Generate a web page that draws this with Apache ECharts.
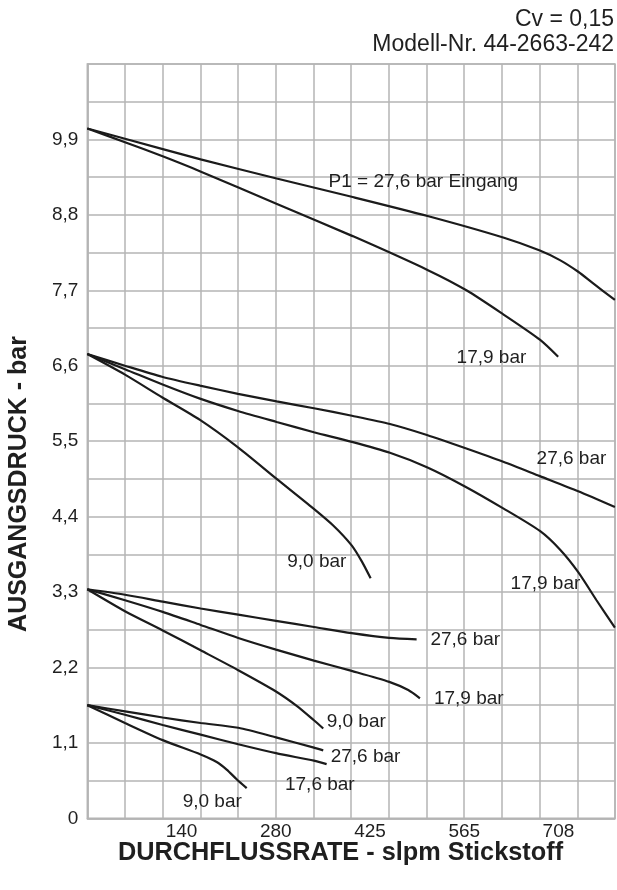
<!DOCTYPE html>
<html>
<head>
<meta charset="utf-8">
<script src="https://cdn.jsdelivr.net/npm/echarts@6/dist/echarts.min.js"></script>
<style>
html,body{margin:0;padding:0;background:#fff;}
#c{width:617px;height:890px;}
</style>
</head>
<body>
<div id="c"></div>
<script>
// ---- tick labels ----
const xLabels = ['140', '280', '425', '565', '708'];
const yLabels = ['0', '1,1', '2,2', '3,3', '4,4', '5,5', '6,6', '7,7', '8,8', '9,9'];

// ---- curves (flow in slpm, outlet pressure in bar) ----
// set point ~10 bar
const flowA276 = [0, 56.6, 170.3, 284.5, 398.7, 512.6, 624.9, 680.0, 710.1, 737.6, 760.1, 792.7];
const presA276 = [10.06, 9.91, 9.61, 9.33, 9.06, 8.78, 8.47, 8.28, 8.14, 7.97, 7.80, 7.56];
const flowA179 = [0, 56.6, 114.2, 170.8, 285.0, 398.7, 512.6, 569.6, 624.9, 680.0, 707.5];
const presA179 = [10.06, 9.86, 9.65, 9.43, 8.96, 8.49, 7.99, 7.70, 7.35, 6.98, 6.73];
// set point ~6.8 bar
const flowB276 = [0, 56.6, 112.2, 169.3, 226.4, 284.5, 340.5, 397.6, 454.7, 510.3, 567.4, 624.9, 680.0, 737.6, 792.7];
const presB276 = [6.77, 6.60, 6.44, 6.31, 6.19, 6.08, 5.98, 5.87, 5.75, 5.59, 5.40, 5.20, 4.99, 4.77, 4.54];
const flowB179 = [0, 56.6, 112.2, 169.3, 226.4, 284.5, 340.5, 397.6, 454.7, 510.3, 567.4, 624.9, 680.0, 710.1, 737.6, 765.1, 792.7];
const presB179 = [6.77, 6.55, 6.33, 6.12, 5.94, 5.78, 5.63, 5.49, 5.33, 5.12, 4.84, 4.52, 4.19, 3.92, 3.59, 3.18, 2.78];
const flowB90 = [0, 56.6, 112.2, 169.3, 226.4, 284.5, 339.5, 369.5, 397.2, 412.2, 425.7];
const presB90 = [6.77, 6.47, 6.14, 5.81, 5.41, 4.95, 4.52, 4.27, 3.98, 3.75, 3.50];
// set point ~3.3 bar
const flowC276 = [0, 56.6, 113.3, 170.3, 226.8, 283.5, 340.5, 397.2, 453.7, 494.8];
const presC276 = [3.34, 3.26, 3.16, 3.06, 2.97, 2.88, 2.79, 2.70, 2.63, 2.61];
const flowC179 = [0, 56.6, 113.3, 170.3, 226.8, 283.5, 340.5, 397.2, 453.7, 482.2, 499.8];
const presC179 = [3.34, 3.18, 3.01, 2.82, 2.63, 2.46, 2.30, 2.15, 1.99, 1.87, 1.75];
const flowC90 = [0, 56.6, 113.3, 170.3, 226.8, 283.5, 314.6, 340.5, 354.5];
const presC90 = [3.34, 3.02, 2.74, 2.45, 2.16, 1.85, 1.64, 1.43, 1.31];
// set point ~1.65 bar
const flowD276 = [0, 56.6, 113.3, 170.3, 226.8, 283.5, 340.5, 354.5];
const presD276 = [1.65, 1.56, 1.47, 1.39, 1.32, 1.18, 1.03, 0.99];
const flowD176 = [0, 56.6, 113.3, 170.3, 226.8, 283.5, 340.5, 359.6];
const presD176 = [1.65, 1.51, 1.36, 1.22, 1.08, 0.95, 0.84, 0.79];
const flowD90 = [0, 56.6, 113.3, 170.3, 194.4, 209.4, 224.4, 239.5];
const presD90 = [1.65, 1.39, 1.14, 0.93, 0.82, 0.71, 0.57, 0.44];

// ---- curve label texts ----
const labelTexts = ['P1 = 27,6 bar Eingang', '17,9 bar', '27,6 bar', '17,9 bar', '9,0 bar',
  '27,6 bar', '17,9 bar', '9,0 bar', '27,6 bar', '17,6 bar', '9,0 bar'];

const curves = [
  [flowA276, presA276], [flowA179, presA179],
  [flowB276, presB276], [flowB179, presB179], [flowB90, presB90],
  [flowC276, presC276], [flowC179, presC179], [flowC90, presC90],
  [flowD276, presD276], [flowD176, presD176], [flowD90, presD90]
];

const SLPM_PER_COL = 56.634;          // 2 SCFM per grid column
const XMAX = SLPM_PER_COL * 14;
const XLAB = SLPM_PER_COL * 2.5;      // 5 SCFM per tick label
const GRIDC = '#b4b4b4';
const TEXT = '#1f1f1f';
const FONT = 'Liberation Sans, Arial, sans-serif';

// label anchors in data space (left edge, vertical middle)
const labelAnchors = [
  [362.5, 9.28], [554.9, 6.71], [675.1, 5.24], [636.0, 3.42], [300.4, 3.74],
  [515.6, 2.60], [520.8, 1.75], [359.6, 1.41], [365.6, 0.90], [297.0, 0.49], [143.3, 0.24]
];

const series = curves.map((c, i) => ({
  type: 'line',
  xAxisIndex: 0,
  data: c[0].map((x, j) => [x, c[1][j]]),
  smooth: 0.25,
  showSymbol: false,
  silent: true,
  lineStyle: { color: '#1b1b1b', width: 2.2 },
  z: 3
}));

series.push({
  type: 'scatter',
  xAxisIndex: 0,
  symbolSize: 0,
  silent: true,
  itemStyle: { opacity: 1 },
  data: labelTexts.map((t, i) => ({ value: labelAnchors[i], name: t })),
  label: {
    show: true, position: 'right', distance: 0, opacity: 1,
    formatter: p => p.name,
    fontSize: 19, color: TEXT, fontFamily: FONT, textBorderWidth: 0
  },
  z: 5
});

const chart = echarts.init(document.getElementById('c'), null, { renderer: 'canvas' });
chart.setOption({
  animation: false,
  backgroundColor: '#fff',
  title: [
    { text: 'Cv = 0,15', right: 3, top: 8, padding: 0, textStyle: { fontSize: 23, fontWeight: 'normal', color: TEXT, fontFamily: FONT } },
    { text: 'Modell-Nr. 44-2663-242', right: 3, top: 33, padding: 0, textStyle: { fontSize: 23, fontWeight: 'normal', color: TEXT, fontFamily: FONT } }
  ],
  grid: { left: 87.3, right: 2, top: 64, bottom: 71.7, show: true, borderColor: GRIDC, borderWidth: 1.5, backgroundColor: 'transparent' },
  xAxis: [
    {
      type: 'value', min: 0, max: XMAX, interval: SLPM_PER_COL,
      axisLine: { show: true, lineStyle: { color: GRIDC, width: 1.5 } },
      axisTick: { show: false }, axisLabel: { show: false },
      splitLine: { show: true, lineStyle: { color: GRIDC, width: 1.5 } }
    },
    {
      type: 'value', min: 0, max: XMAX, interval: XLAB, position: 'bottom',
      axisLine: { show: false }, axisTick: { show: false }, splitLine: { show: false },
      axisLabel: {
        margin: 4, fontSize: 19, color: TEXT, fontFamily: FONT,
        showMaxLabel: false,
        formatter: v => xLabels[Math.round(v / XLAB) - 1] || ''
      }
    }
  ],
  yAxis: {
    type: 'value', min: 0, max: 11, interval: 0.55,
    axisLine: { show: true, lineStyle: { color: GRIDC, width: 1.5 } },
    axisTick: { show: false },
    splitLine: { show: true, lineStyle: { color: GRIDC, width: 1.5 } },
    axisLabel: {
      margin: 9, fontSize: 19, color: TEXT, fontFamily: FONT,
      formatter: v => { const i = Math.round(v / 0.55); return i % 2 === 0 ? (yLabels[i / 2] || '') : ''; }
    }
  },
  graphic: [
    { type: 'text', left: 118, top: 841, style: { text: 'DURCHFLUSSRATE - slpm Stickstoff', fontSize: 25.3, fontWeight: 'bold', fill: TEXT, fontFamily: FONT } },
    { type: 'text', x: 19, y: 484, rotation: Math.PI / 2, style: { text: 'AUSGANGSDRUCK - bar', fontSize: 25, fontWeight: 'bold', fill: TEXT, fontFamily: FONT, align: 'center', verticalAlign: 'middle' } }
  ],
  series: series
});
</script>
</body>
</html>
